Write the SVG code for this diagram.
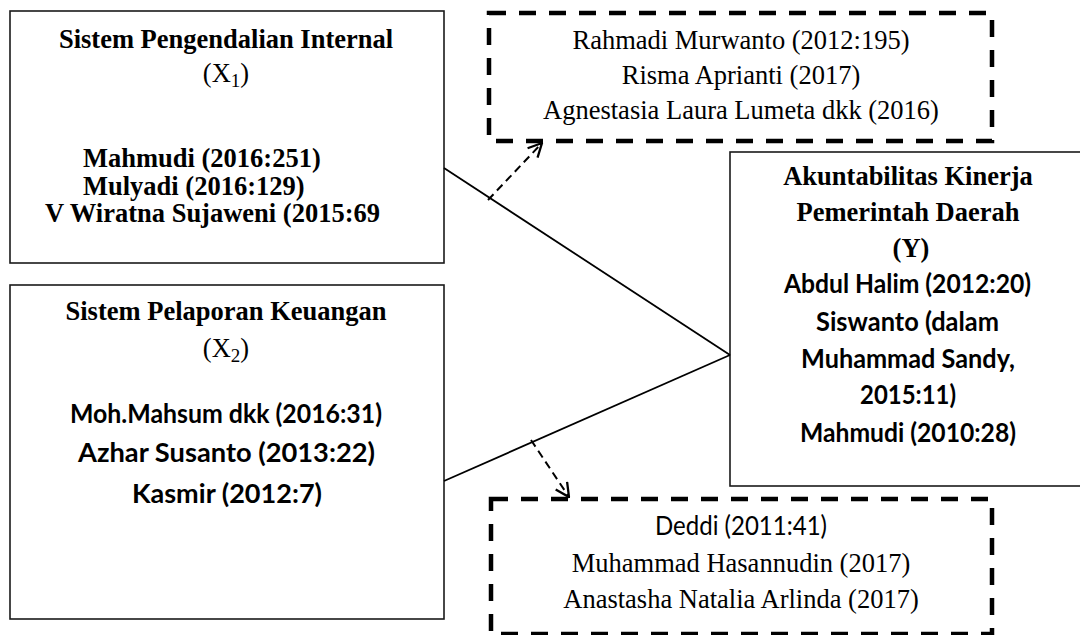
<svg xmlns="http://www.w3.org/2000/svg" width="1080" height="635" viewBox="0 0 1080 635">
<defs>
<style>
.box{fill:#fff;stroke:#1a1a1a;stroke-width:1.6}
.dbox{fill:none;stroke:#000;stroke-width:4.5;stroke-dasharray:17 13}
.tb{font-family:"Liberation Serif","Times New Roman",serif;font-weight:bold;font-size:26.5px;fill:#000}
.tr{font-family:"Liberation Serif","Times New Roman",serif;font-size:26.5px;fill:#000}
.cb{font-family:Lato,"Open Sans",sans-serif;font-weight:bold;font-size:26.5px;fill:#000}
.cr{font-family:Lato,"Open Sans",sans-serif;font-size:26.5px;fill:#000}
.ln{fill:none;stroke:#000;stroke-width:1.8}
.dl{fill:none;stroke:#000;stroke-width:2;stroke-dasharray:8 5}
</style>
<marker id="open" viewBox="0 0 14 14" refX="13" refY="7" markerWidth="16" markerHeight="16" markerUnits="userSpaceOnUse" orient="auto">
<path d="M1,1 L13,7 L1,13" fill="none" stroke="#000" stroke-width="2" stroke-dasharray="none"/>
</marker>
</defs>
<rect width="1080" height="635" fill="#fff"/>

<g id="node-x1">
<rect class="box" x="10" y="11" width="434" height="252"/>
<text class="tb" x="226" y="48" text-anchor="middle">Sistem Pengendalian Internal</text>
<text class="tr" x="226" y="82" text-anchor="middle">(X<tspan font-size="19" dy="5">1</tspan><tspan dy="-5">)</tspan></text>
<text class="tb" x="83" y="167">Mahmudi (2016:251)</text>
<text class="tb" x="83" y="195">Mulyadi (2016:129)</text>
<text class="tb" x="45" y="222">V Wiratna Sujaweni (2015:69</text>
</g>

<g id="node-x2">
<rect class="box" x="10" y="285" width="434" height="334"/>
<text class="tb" x="226" y="320" text-anchor="middle">Sistem Pelaporan Keuangan</text>
<text class="tr" x="226" y="357" text-anchor="middle">(X<tspan font-size="19" dy="5">2</tspan><tspan dy="-5">)</tspan></text>
<text class="cb" x="226" y="423" text-anchor="middle" textLength="312" lengthAdjust="spacingAndGlyphs">Moh.Mahsum dkk (2016:31)</text>
<text class="cb" x="226.5" y="462" text-anchor="middle" textLength="297" lengthAdjust="spacingAndGlyphs">Azhar Susanto (2013:22)</text>
<text class="cb" x="227" y="503" text-anchor="middle" textLength="190" lengthAdjust="spacingAndGlyphs">Kasmir (2012:7)</text>
</g>

<g id="node-y">
<rect class="box" x="730" y="152" width="360" height="334"/>
<text class="tb" x="908" y="185" text-anchor="middle">Akuntabilitas Kinerja</text>
<text class="tb" x="908" y="221" text-anchor="middle">Pemerintah Daerah</text>
<text class="tb" x="911" y="257" text-anchor="middle">(Y)</text>
<text class="cb" x="907.5" y="293" text-anchor="middle" textLength="247" lengthAdjust="spacingAndGlyphs">Abdul Halim (2012:20)</text>
<text class="cb" x="907.5" y="331" text-anchor="middle" textLength="183" lengthAdjust="spacingAndGlyphs">Siswanto (dalam</text>
<text class="cb" x="908" y="368" text-anchor="middle" textLength="214" lengthAdjust="spacingAndGlyphs">Muhammad Sandy,</text>
<text class="cb" x="908" y="404" text-anchor="middle" textLength="96" lengthAdjust="spacingAndGlyphs">2015:11)</text>
<text class="cb" x="908" y="442" text-anchor="middle" textLength="216" lengthAdjust="spacingAndGlyphs">Mahmudi (2010:28)</text>
</g>

<g id="node-ref-top">
<rect class="dbox" x="489" y="13" width="503" height="128"/>
<text class="tr" x="741" y="49" text-anchor="middle">Rahmadi Murwanto (2012:195)</text>
<text class="tr" x="741" y="84" text-anchor="middle">Risma Aprianti (2017)</text>
<text class="tr" x="741" y="119" text-anchor="middle">Agnestasia Laura Lumeta dkk (2016)</text>
</g>

<g id="node-ref-bottom">
<rect class="dbox" x="491" y="499" width="501" height="135"/>
<text class="cr" x="741" y="535" text-anchor="middle" textLength="172" lengthAdjust="spacingAndGlyphs">Deddi (2011:41)</text>
<text class="tr" x="741" y="572" text-anchor="middle">Muhammad Hasannudin (2017)</text>
<text class="tr" x="741" y="608" text-anchor="middle">Anastasha Natalia Arlinda (2017)</text>
</g>

<g id="connectors">
<line class="ln" x1="444" y1="168" x2="730" y2="355"/>
<line class="ln" x1="444" y1="481" x2="730" y2="355"/>
<line class="dl" x1="488" y1="200" x2="542" y2="143" marker-end="url(#open)"/>
<line class="dl" x1="531" y1="440" x2="569" y2="497" marker-end="url(#open)"/>
</g>
</svg>
